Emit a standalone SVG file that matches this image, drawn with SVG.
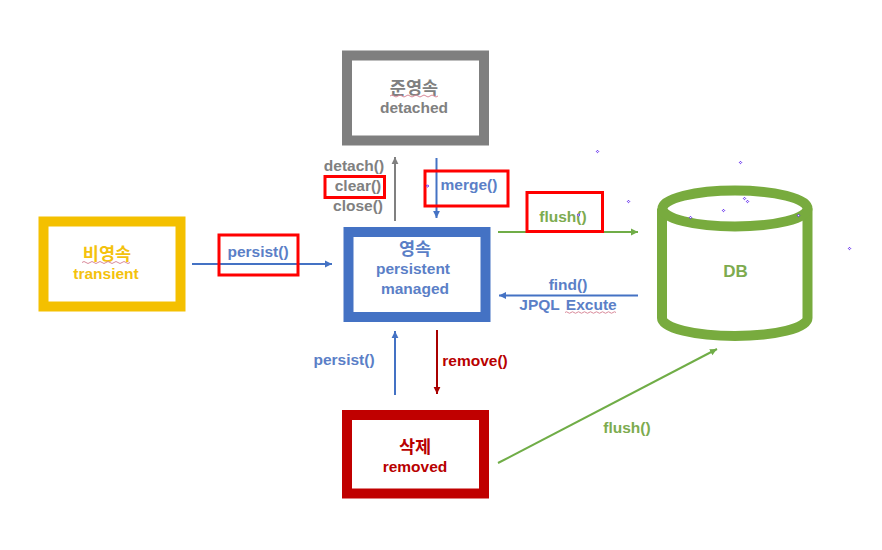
<svg xmlns="http://www.w3.org/2000/svg" width="882" height="550" viewBox="0 0 882 550">
<style>
text{font-family:"Liberation Sans","Noto Sans CJK KR",sans-serif;font-weight:700;font-size:15.5px;text-anchor:middle}
.kr{font-size:17.5px}
.box{fill:#fff;stroke-width:10}
.ln{fill:none;stroke-width:2}
.hl{fill:none;stroke:#f00;stroke-width:3}
.sq{fill:none;stroke:#d98a9a;stroke-width:1}
.gray{fill:#808080}.blue{fill:#5b7fc7}.yel{fill:#f4c20d}.red{fill:#b80000}.grn{fill:#7dab4f}
.dot{fill:#fff;stroke:#5a20f0;stroke-width:1}
</style>
<defs>
<marker id="aBlue" markerWidth="4" markerHeight="4" refX="3.500" refY="2" orient="auto" markerUnits="strokeWidth"><path d="M0 .3L3.500 2L0 3.700z" fill="#4472c4"/></marker>
<marker id="aGray" markerWidth="4" markerHeight="4" refX="3.500" refY="2" orient="auto" markerUnits="strokeWidth"><path d="M0 .3L3.500 2L0 3.700z" fill="#808080"/></marker>
<marker id="aRed" markerWidth="4" markerHeight="4" refX="3.500" refY="2" orient="auto" markerUnits="strokeWidth"><path d="M0 .3L3.500 2L0 3.700z" fill="#a80000"/></marker>
<marker id="aGrn" markerWidth="4" markerHeight="4" refX="3.500" refY="2" orient="auto" markerUnits="strokeWidth"><path d="M0 .3L3.500 2L0 3.700z" fill="#70ad47"/></marker>
<path id="d" class="dot" d="M0-1.200L1.200 0L0 1.200L-1.200 0z"/>
</defs>
<rect width="882" height="550" fill="#fff"/>
<g id="connectors">
<path class="ln" stroke="#4472c4" marker-end="url(#aBlue)" d="M192 264H332"/>
<path class="ln" stroke="#808080" marker-end="url(#aGray)" d="M395 221V157"/>
<path class="ln" stroke="#4472c4" marker-end="url(#aBlue)" d="M436.500 158V218"/>
<path class="ln" stroke="#70ad47" marker-end="url(#aGrn)" d="M498 232H638"/>
<path class="ln" stroke="#4472c4" marker-end="url(#aBlue)" d="M638 295.500H499"/>
<path class="ln" stroke="#4472c4" marker-end="url(#aBlue)" d="M395 395V331"/>
<path class="ln" stroke="#a80000" marker-end="url(#aRed)" d="M437 330V394"/>
<path class="ln" stroke="#70ad47" marker-end="url(#aGrn)" d="M498 463L717 349"/>
</g>
<g id="detached">
<rect class="box" stroke="#7f7f7f" x="347" y="55.500" width="137" height="85"/>
<text class="gray kr" x="414" y="94">준영속</text>
<text class="gray" x="414" y="113">detached</text>
<path class="sq" d="M390 96q2-2 4 0t4 0t4 0t4 0t4 0t4 0t4 0t4 0t4 0t4 0t4 0t4 0"/>
</g>
<g id="transient">
<rect class="box" stroke="#f4c000" x="43.500" y="221.500" width="137" height="85"/>
<text class="yel kr" x="107" y="260">비영속</text>
<text class="yel" x="106" y="279">transient</text>
<path class="sq" d="M82 262.500q2-2 4 0t4 0t4 0t4 0t4 0t4 0t4 0t4 0t4 0t4 0t4 0t4 0"/>
</g>
<g id="persistent">
<rect class="box" stroke="#4472c4" x="348.500" y="232" width="137" height="85"/>
<text class="blue kr" x="415" y="255">영속</text>
<text class="blue" x="413" y="274">persistent</text>
<text class="blue" x="415" y="294">managed</text>
</g>
<g id="removed">
<rect class="box" stroke="#c00000" x="347" y="415" width="137" height="78.500"/>
<text class="red kr" x="415" y="453">삭제</text>
<text class="red" x="415" y="472">removed</text>
</g>
<g id="db">
<path fill="#fff" stroke="#78ab3e" stroke-width="10" d="M662 208.500V318C662 328 695 336 735 336S807.500 328 807.500 318V208.500"/>
<ellipse cx="735" cy="208.500" rx="72.500" ry="18" fill="#fff" stroke="#78ab3e" stroke-width="10"/>
<text class="grn" x="735.500" y="277" style="font-size:17px">DB</text>
</g>
<g id="labels">
<text class="gray" x="354" y="171">detach()</text>
<text class="gray" x="358" y="191">clear()</text>
<text class="gray" x="358" y="211">close()</text>
<text class="blue" x="469" y="190">merge()</text>
<text class="grn" x="563" y="222">flush()</text>
<text class="blue" x="258" y="257">persist()</text>
<text class="blue" x="568" y="290">find()</text>
<text class="blue" x="568" y="310" style="word-spacing:2px">JPQL Excute</text>
<path class="sq" d="M565 312.500q1.500-1.500 3 0t3 0t3 0t3 0t3 0t3 0t3 0t3 0t3 0t3 0t3 0t3 0t3 0t3 0t3 0t3 0t3 0"/>
<text class="blue" x="344" y="365">persist()</text>
<text class="red" x="475" y="366">remove()</text>
<text class="grn" x="627" y="433">flush()</text>
</g>
<g id="highlights">
<rect class="hl" x="219" y="235" width="79" height="40"/>
<rect class="hl" x="325" y="176.500" width="59.500" height="21"/>
<rect class="hl" x="425" y="171" width="83" height="35"/>
<rect class="hl" x="527" y="192.500" width="75.500" height="39"/>
</g>
<g id="specks">
<use href="#d" x="597.500" y="151.500"/><use href="#d" x="628.500" y="201.500"/><use href="#d" x="740.500" y="162.500"/>
<use href="#d" x="744.500" y="198.500"/><use href="#d" x="747.500" y="201.500"/><use href="#d" x="723.500" y="210.500"/>
<use href="#d" x="690.500" y="217.500"/><use href="#d" x="798.500" y="215.500"/><use href="#d" x="849.500" y="248.500"/>
<use href="#d" x="427.500" y="186"/><use href="#d" x="578.500" y="215"/>
</g>
</svg>
